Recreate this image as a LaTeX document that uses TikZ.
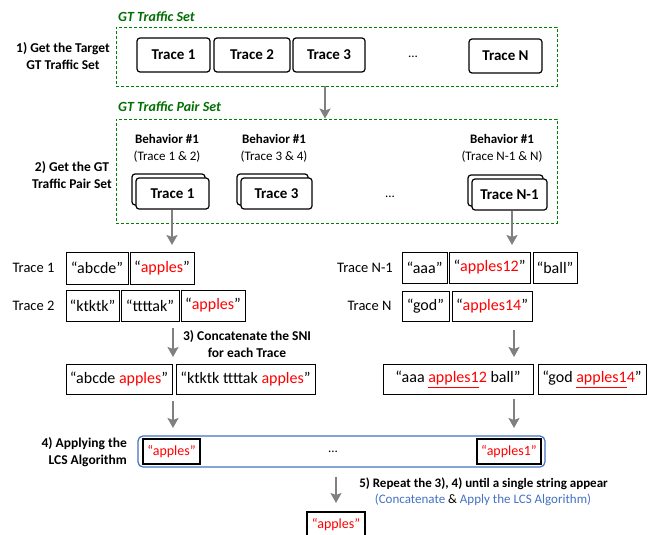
\documentclass[tikz,border=0pt]{standalone}
\usepackage{fontspec}
\setmainfont{Carlito}
\usetikzlibrary{arrows.meta}
\definecolor{gtgreen}{RGB}{0,128,0}
\definecolor{gttext}{RGB}{0,110,0}
\definecolor{lcsblue}{RGB}{68,114,196}
\definecolor{arrgray}{RGB}{128,128,128}
\definecolor{apred}{RGB}{255,0,0}
\tikzset{
  x=1pt, y=1pt,
  gtset/.style={draw=gtgreen, dashed, dash pattern=on 3pt off 2pt, line width=0.9pt, inner sep=0pt},
  settitle/.style={anchor=west, text=gttext, font=\bfseries\itshape\fontsize{14}{16}\selectfont, inner sep=0pt},
  steplbl/.style={font=\bfseries\fontsize{13.5}{17}\selectfont, align=center, inner sep=0pt},
  trbox/.style={draw, rounded corners=3pt, line width=1.2pt, fill=white, font=\bfseries\fontsize{15}{17}\selectfont, inner sep=0pt},
  behav/.style={font=\fontsize{13}{17}\selectfont, align=center, inner sep=0pt},
  rowlbl/.style={font=\fontsize{14.5}{16}\selectfont, inner sep=0pt},
  strbox/.style={draw, line width=0.9pt, font=\fontsize{16}{18}\selectfont, inner sep=0pt},
  lcsitem/.style={draw, line width=1.2pt, fill=white, text=apred, font=\fontsize{14}{16}\selectfont, inner sep=0pt},
  dots/.style={font=\fontsize{13}{15}\selectfont, inner sep=0pt},
  flow/.style={draw=arrgray, line width=2.5pt, -{Stealth[length=10pt,width=11pt,inset=2pt]}},
}
\newcommand{\ap}[1]{\textcolor{apred}{#1}}
\newcommand{\apu}[2]{{\color{apred}\underline{#1}#2}}
\begin{document}
\begin{tikzpicture}
\useasboundingbox (0,0) rectangle (656,-535);

% ---- GT Traffic Set ----
\node[settitle] (t1) at (118,-17) {GT Traffic Set};
\node[gtset, minimum width=441, minimum height=59] (set1) at (336.5,-56.5) {};
\node[steplbl] (l1) at (63,-56) {1) Get the Target\\GT Traffic Set};
\node[trbox, minimum width=73, minimum height=34] (tr1) at (173.5,-55) {Trace 1};
\node[trbox, minimum width=76, minimum height=34] (tr2) at (252,-55) {Trace 2};
\node[trbox, minimum width=72, minimum height=34] (tr3) at (329,-55) {Trace 3};
\node[dots] (d1) at (413,-57) {...};
\node[trbox, minimum width=73, minimum height=34] (trN) at (505.5,-56) {Trace N};

% ---- GT Traffic Pair Set ----
\node[settitle] (t2) at (118,-107) {GT Traffic Pair Set};
\node[gtset, minimum width=441, minimum height=104] (set2) at (336.5,-171) {};
\node[steplbl] (l2) at (72,-175) {2) Get the GT\\Traffic Pair Set};
\coordinate (a1x) at (325,0);
\draw[flow] (set1.south -| a1x) -- (set2.north -| a1x);

\node[behav] (b1) at (167,-148) {\textbf{Behavior \#1}\\(Trace 1 \& 2)};
\node[behav] (b2) at (274,-148) {\textbf{Behavior \#1}\\(Trace 3 \& 4)};
\node[behav] (b3) at (502,-148) {\textbf{Behavior \#1}\\(Trace N-1 \& N)};

\node[trbox, minimum width=73, minimum height=31] (p1b) at (168.5,-189.5) {};
\node[trbox, minimum width=73, minimum height=31] (p1) at (172.5,-193.5) {Trace 1};
\node[trbox, minimum width=71, minimum height=31] (p2b) at (272.5,-189.5) {};
\node[trbox, minimum width=71, minimum height=31] (p2) at (276.5,-193.5) {Trace 3};
\node[dots] (d2) at (390,-197) {...};
\node[trbox, minimum width=75, minimum height=31] (p3b) at (505.5,-190.5) {};
\node[trbox, minimum width=75, minimum height=31] (p3) at (509.5,-194.5) {Trace N-1};

\coordinate (e1) at (172,-245);
\coordinate (e2) at (512,-245);
\draw[flow] (p1.south -| e1) -- (e1);
\draw[flow] (p3.south -| e2) -- (e2);

% ---- Left traces ----
\node[rowlbl] (rl1) at (33.5,-268) {Trace 1};
\node[strbox, minimum width=62, minimum height=32] (s11) at (97,-268) {“abcde”};
\node[strbox, minimum width=64, minimum height=32] (s12) at (162,-268) {“\ap{apples}”};
\node[rowlbl] (rl2) at (33.5,-306) {Trace 2};
\node[strbox, minimum width=53, minimum height=31] (s21) at (92.5,-305.5) {“ktktk”};
\node[strbox, minimum width=58, minimum height=31] (s22) at (150,-305.5) {“ttttak”};
\node[strbox, minimum width=64, minimum height=31] (s23) at (213,-305.5) {“\ap{apples}”};

\node[steplbl] (l3) at (247,-344) {3) Concatenate the SNI\\for each Trace};
\node[strbox, minimum width=106, minimum height=30] (c1) at (119,-379) {“abcde \ap{apples}”};
\node[strbox, minimum width=139, minimum height=30] (c2) at (245.5,-379) {“ktktk ttttak \ap{apples}”};
\coordinate (e3) at (173,-357);
\draw[flow] (s21.south -| e3) ++(0,-7) -- (e3);

% ---- Right traces ----
\node[rowlbl] (rl3) at (365,-268) {Trace N-1};
\node[strbox, minimum width=45, minimum height=31] (r11) at (424.5,-267.5) {“aaa”};
\node[strbox, minimum width=81, minimum height=31] (r12) at (489.5,-267.5) {“\ap{apples12}”};
\node[strbox, minimum width=44, minimum height=31] (r13) at (555,-267.5) {“ball”};
\node[rowlbl] (rl4) at (369.5,-306) {Trace N};
\node[strbox, minimum width=47, minimum height=30] (r21) at (425.5,-306) {“god”};
\node[strbox, minimum width=80, minimum height=30] (r22) at (492,-306) {“\ap{apples14}”};
\node[strbox, minimum width=150, minimum height=30] (c3) at (458,-379.5) {“aaa \apu{apples1}{2} ball”};
\node[strbox, minimum width=108, minimum height=30] (c4) at (592,-379.5) {“god \apu{apples1}{4}”};
\coordinate (e4) at (514,-357);
\draw[flow] (r22.south -| e4) ++(0,-9) -- (e4);

% ---- LCS ----
\node[draw=lcsblue, line width=1.2pt, rounded corners=5pt, minimum width=407, minimum height=31, inner sep=0pt] (lcs) at (341.5,-451.5) {};
\node[steplbl, align=right, anchor=east] (l4) at (127,-452) {4) Applying the\\LCS Algorithm};
\node[lcsitem, minimum width=57, minimum height=25] (li1) at (171.5,-451.5) {“apples”};
\node[dots] (d3) at (333,-452) {...};
\node[lcsitem, minimum width=64, minimum height=25] (li2) at (509,-451.5) {“apples1”};
\coordinate (e5) at (173,-428);
\coordinate (e6) at (514,-428);
\draw[flow] (c1.south -| e5) ++(0,-7) -- (e5);
\draw[flow] (c3.south -| e6) ++(0,-4) -- (e6);

% ---- Repeat ----
\node[steplbl, font=\bfseries\fontsize{13}{17}\selectfont] (l5) at (483.5,-484) {5) Repeat the 3), 4) until a single string appear};
\node[behav, text=lcsblue] (l5b) at (483,-500) {(Concatenate \textcolor{black}{\&} Apply the LCS Algorithm)};
\node[lcsitem, minimum width=58, minimum height=25] (fin) at (336,-524.5) {“apples”};
\coordinate (e7) at (336,-503);
\draw[flow] (lcs.south -| e7) ++(0,-9) -- (e7);
\end{tikzpicture}
\end{document}
